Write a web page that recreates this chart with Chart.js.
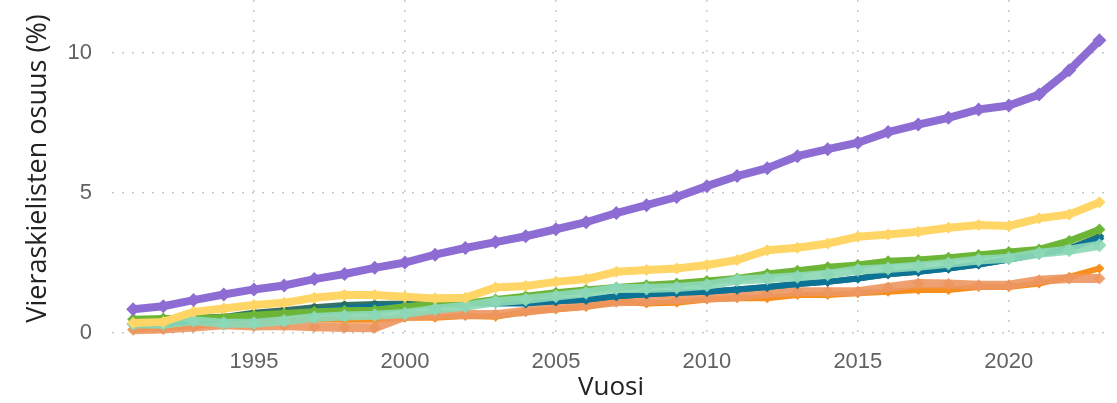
<!DOCTYPE html>
<html>
<head>
<meta charset="utf-8">
<script src="https://cdn.jsdelivr.net/npm/chart.js@4.4.1/dist/chart.umd.min.js"></script>
<style>
  html, body { margin: 0; padding: 0; background: #fff; }
  #wrap { width: 1117px; height: 403px; }
</style>
</head>
<body>
<div id="wrap"><canvas id="chart"></canvas></div>
<script>
// Vieraskielisten osuus (%) 1991-2023
const years = [1991,1992,1993,1994,1995,1996,1997,1998,1999,2000,2001,2002,2003,2004,2005,2006,2007,
               2008,2009,2010,2011,2012,2013,2014,2015,2016,2017,2018,2019,2020,2021,2022,2023];
const xTicks = [1995, 2000, 2005, 2010, 2015, 2020];
const yTicks = [0, 5, 10];

const purple = [0.85,0.96,1.18,1.38,1.56,1.70,1.93,2.11,2.33,2.52,2.80,3.04,3.25,3.46,3.71,3.96,4.29,
                4.57,4.86,5.25,5.61,5.89,6.32,6.57,6.80,7.18,7.45,7.69,7.99,8.13,8.52,9.39,10.46];
const yellow = [0.36,0.40,0.76,0.88,1.00,1.08,1.26,1.36,1.36,1.30,1.24,1.26,1.63,1.68,1.83,1.93,2.19,
                2.25,2.31,2.43,2.61,2.96,3.05,3.20,3.44,3.52,3.62,3.76,3.86,3.83,4.10,4.24,4.67];
const green = [0.49,0.52,0.52,0.56,0.64,0.70,0.76,0.80,0.82,0.94,1.04,1.06,1.20,1.32,1.44,1.54,1.63,
               1.71,1.77,1.86,1.95,2.11,2.23,2.35,2.43,2.57,2.61,2.69,2.79,2.90,2.99,3.29,3.70];
const darkTeal = [0.36,0.40,0.55,0.58,0.73,0.82,0.92,1.00,1.04,1.06,1.08,1.10,1.08,1.08,1.14,1.19,1.32,
                  1.39,1.44,1.48,1.56,1.65,1.75,1.83,1.95,2.10,2.19,2.31,2.45,2.63,2.82,3.02,3.46];
const blue = [0.30,0.32,0.45,0.50,0.60,0.70,0.80,0.90,0.95,1.00,1.02,1.08,1.06,1.06,1.14,1.19,1.32,
              1.39,1.44,1.48,1.56,1.65,1.75,1.83,1.95,2.10,2.19,2.31,2.45,2.63,2.82,3.02,3.38];
const mint = [0.32,0.32,0.44,0.35,0.35,0.44,0.56,0.61,0.64,0.70,0.85,0.96,1.12,1.20,1.32,1.44,1.59,
              1.59,1.63,1.71,1.89,1.95,2.01,2.10,2.25,2.31,2.39,2.49,2.61,2.67,2.85,2.96,3.14];
const orange = [0.15,0.18,0.25,0.35,0.43,0.45,0.49,0.48,0.48,0.55,0.55,0.61,0.58,0.76,0.84,0.93,1.12,
                1.06,1.08,1.20,1.24,1.24,1.36,1.36,1.42,1.48,1.54,1.54,1.65,1.65,1.77,2.01,2.31];
const salmon = [0.12,0.15,0.22,0.30,0.25,0.27,0.23,0.20,0.19,0.60,0.65,0.66,0.66,0.78,0.90,1.00,1.12,
                1.15,1.20,1.25,1.30,1.42,1.48,1.48,1.48,1.63,1.77,1.75,1.71,1.71,1.89,1.95,1.95];

function series(values, color, width, radius, order) {
  return {
    data: values.map((v, i) => ({ x: years[i], y: v })),
    borderColor: color,
    backgroundColor: color,
    borderWidth: width,
    pointStyle: 'rectRot',
    pointRadius: radius,
    pointBorderWidth: 0,
    pointHoverRadius: radius,
    tension: 0,
    order: order
  };
}

const datasets = [
  series(purple, '#8d6dd3', 8, 7, 1),
  series(yellow, '#ffd566', 8, 6, 2),
  series(mint, 'rgba(140,216,182,0.92)', 9, 7, 3),
  series(green, '#6db537', 7, 6, 4),
  series(blue, '#0d7396', 6, 5, 5),
  series(darkTeal, 'rgba(42,106,92,0.95)', 6, 5, 6),
  series(salmon, 'rgba(236,150,96,0.9)', 9, 6, 7),
  series(orange, '#f78f1e', 6, 5, 8)
];

const gridStyle = {
  color: '#c8c8c8',
  lineWidth: 1.5,
  drawTicks: false
};

// pin the plot area to the reference position
const pinArea = {
  id: 'pinArea',
  afterLayout(chart) {
    const a = chart.chartArea;
    a.top = 0;
    a.height = a.bottom - a.top;
    const y = chart.scales.y;
    y.top = 0;
    y.height = y.bottom - y.top;
    y.configure();
  }
};

new Chart(document.getElementById('chart'), {
  type: 'line',
  data: { datasets: datasets },
  plugins: [pinArea],
  options: {
    responsive: true,
    maintainAspectRatio: false,
    animation: false,
    layout: { padding: 0 },
    plugins: { legend: { display: false }, tooltip: { enabled: false } },
    scales: {
      x: {
        type: 'linear',
        min: 1990.3,
        max: 2023.35,
        afterBuildTicks: s => { s.ticks = xTicks.map(v => ({ value: v })); },
        afterFit: s => { s.height = 66; },
        grid: gridStyle,
        border: { display: false, dash: [2, 8] },
        ticks: {
          color: '#626262',
          padding: 12,
          font: { family: 'Liberation Sans', size: 22 },
          callback: v => String(v)
        },
        title: {
          display: true,
          text: 'Vuosi',
          color: '#222',
          padding: { top: 9, bottom: 0 },
          font: { family: 'Open Sans', size: 26, weight: '500' }
        }
      },
      y: {
        min: -0.14,
        max: 11.9,
        afterBuildTicks: s => { s.ticks = yTicks.map(v => ({ value: v })); },
        afterFit: s => { s.width = 112; },
        grid: gridStyle,
        border: { display: false, dash: [2, 8] },
        ticks: {
          color: '#626262',
          padding: 20,
          font: { family: 'Liberation Sans', size: 22 }
        },
        title: {
          display: true,
          text: 'Vieraskielisten osuus (%)',
          color: '#222',
          padding: { top: 22, bottom: 0 },
          font: { family: 'Open Sans', size: 27, weight: '500' }
        }
      }
    }
  }
});
</script>
</body>
</html>
